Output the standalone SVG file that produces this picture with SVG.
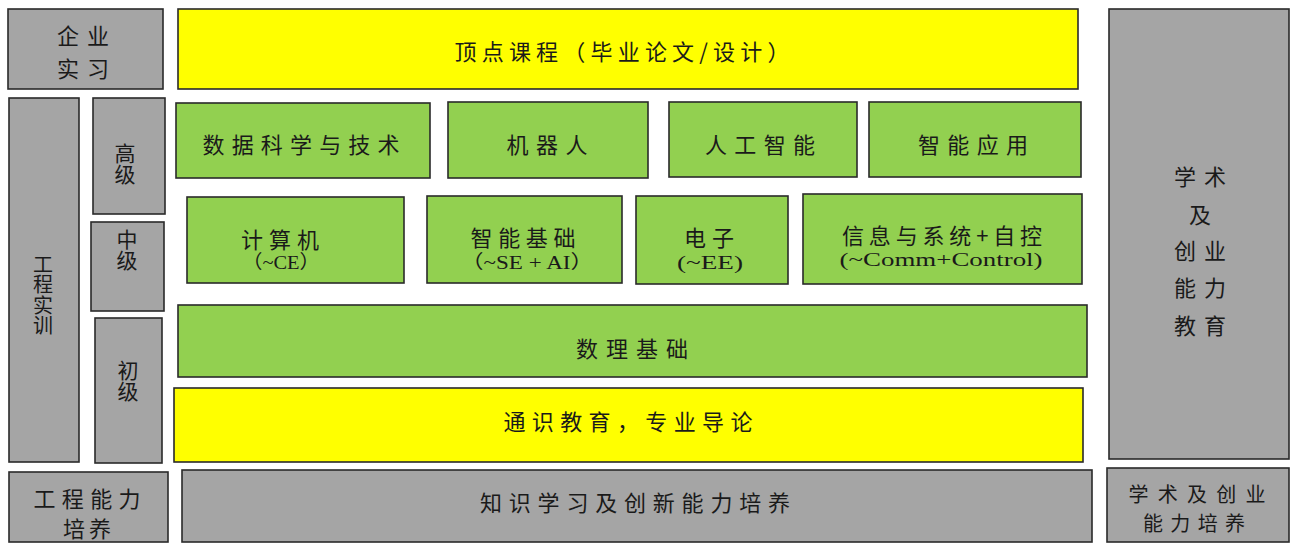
<svg xmlns="http://www.w3.org/2000/svg" width="1291" height="544" viewBox="0 0 1291 544">
<style>
rect{stroke:#2a2a2a;stroke-width:1.6}
.g{fill:#a5a5a5}
.gr{fill:#92d050}
.y{fill:#ffff00}
text{font-family:"Noto Sans CJK SC","Liberation Sans",sans-serif;font-size:22px;fill:#1a1a1a;text-anchor:middle;dominant-baseline:central}
.v{writing-mode:vertical-rl;font-size:20px}
.s{font-family:"Liberation Serif","Noto Sans CJK SC",serif;font-size:19px}
</style>
<rect x="0" y="0" width="1291" height="544" fill="#ffffff" style="stroke:none"/>
<g id="internship"><rect class="g" x="8" y="9" width="155" height="80"/><text><tspan x="83" y="34" textLength="52" lengthAdjust="spacing">企业</tspan><tspan x="83" y="67" textLength="52" lengthAdjust="spacing">实习</tspan></text></g>
<g id="capstone"><rect class="y" x="178" y="9" width="900" height="80"/><text x="622" y="50" textLength="335" lengthAdjust="spacing">顶点课程（毕业论文/设计）</text></g>
<g id="eng-training"><rect class="g" x="9" y="98" width="70" height="364"/><text class="v" x="43" y="295" style="letter-spacing:0.5px">工程实训</text></g>
<g id="advanced"><rect class="g" x="93" y="98" width="72" height="116"/><text class="v" x="125" y="164" style="font-size:21px">高级</text></g>
<g id="intermediate"><rect class="g" x="91" y="222" width="73" height="89"/><text class="v" x="127" y="250" style="font-size:21px">中级</text></g>
<g id="primary"><rect class="g" x="95" y="318" width="67" height="145"/><text class="v" x="128" y="381" style="font-size:21px">初级</text></g>
<g id="data-science"><rect class="gr" x="176" y="103" width="254" height="75"/><text x="301" y="143" textLength="197" lengthAdjust="spacing">数据科学与技术</text></g>
<g id="robotics"><rect class="gr" x="448" y="102" width="200" height="76"/><text x="547" y="143" textLength="81" lengthAdjust="spacing">机器人</text></g>
<g id="ai"><rect class="gr" x="669" y="102" width="188" height="75"/><text x="760" y="143" textLength="110" lengthAdjust="spacing">人工智能</text></g>
<g id="intelligent-app"><rect class="gr" x="869" y="102" width="212" height="75"/><text x="973" y="143" textLength="110" lengthAdjust="spacing">智能应用</text></g>
<g id="computer"><rect class="gr" x="187" y="197" width="217" height="86"/><text><tspan x="280" y="238" textLength="78" lengthAdjust="spacing">计算机</tspan><tspan class="s" x="281" y="262" textLength="78" lengthAdjust="spacingAndGlyphs">（~CE）</tspan></text></g>
<g id="intelligent-base"><rect class="gr" x="427" y="196" width="195" height="87"/><text><tspan x="523" y="236" textLength="105" lengthAdjust="spacing">智能基础</tspan><tspan class="s" x="527" y="262" textLength="133" lengthAdjust="spacingAndGlyphs">（~SE + AI）</tspan></text></g>
<g id="electronics"><rect class="gr" x="636" y="196" width="152" height="88"/><text><tspan x="709" y="236" textLength="50" lengthAdjust="spacing">电子</tspan><tspan class="s" x="710" y="262" textLength="66" lengthAdjust="spacingAndGlyphs">(~EE)</tspan></text></g>
<g id="comm-control"><rect class="gr" x="803" y="194" width="279" height="90"/><text><tspan x="942" y="234" textLength="200" lengthAdjust="spacing">信息与系统+自控</tspan><tspan class="s" x="941" y="259" textLength="203" lengthAdjust="spacingAndGlyphs">(~Comm+Control)</tspan></text></g>
<g id="math"><rect class="gr" x="178" y="305" width="909" height="72"/><text x="632" y="347" textLength="112" lengthAdjust="spacing">数理基础</text></g>
<g id="general-edu"><rect class="y" x="174" y="388" width="909" height="74"/><text x="628" y="420" textLength="249" lengthAdjust="spacing">通识教育，专业导论</text></g>
<g id="academic-edu"><rect class="g" x="1109" y="9" width="180" height="450"/><text><tspan x="1200" y="175" textLength="52" lengthAdjust="spacing">学术</tspan><tspan x="1200" y="213">及</tspan><tspan x="1200" y="249" textLength="52" lengthAdjust="spacing">创业</tspan><tspan x="1200" y="286" textLength="52" lengthAdjust="spacing">能力</tspan><tspan x="1200" y="324" textLength="52" lengthAdjust="spacing">教育</tspan></text></g>
<g id="eng-ability"><rect class="g" x="9" y="472" width="159" height="70"/><text><tspan x="87" y="497" textLength="107" lengthAdjust="spacing">工程能力</tspan><tspan x="87" y="527" textLength="48" lengthAdjust="spacing">培养</tspan></text></g>
<g id="knowledge"><rect class="g" x="182" y="470" width="910" height="72"/><text x="635" y="501" textLength="310" lengthAdjust="spacing">知识学习及创新能力培养</text></g>
<g id="academic-ability"><rect class="g" x="1107" y="468" width="182" height="74"/><text style="font-size:20px"><tspan x="1197" y="493" textLength="137" lengthAdjust="spacing">学术及创业</tspan><tspan x="1194" y="522" textLength="102" lengthAdjust="spacing">能力培养</tspan></text></g>
</svg>
